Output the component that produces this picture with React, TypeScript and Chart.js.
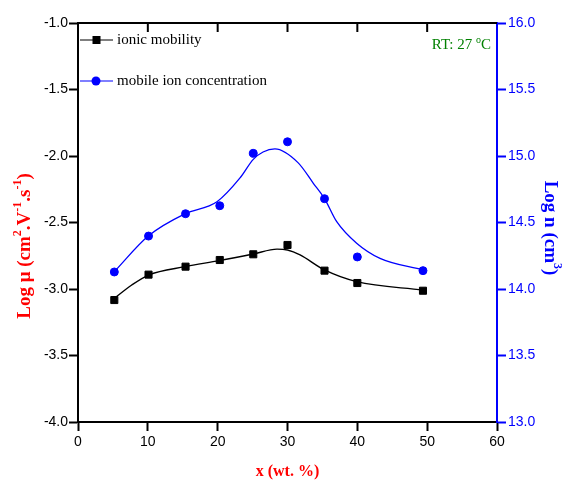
import React, { useEffect, useRef } from "react";
import { Chart, registerables } from "chart.js";
Chart.register(...registerables);

// measured points
const xValues = [5.2, 10.1, 15.4, 20.3, 25.1, 30.0, 35.3, 40.0, 49.4];
const mobility = [-3.083, -2.892, -2.832, -2.782, -2.739, -2.669, -2.862, -2.955, -3.013];
const concentration = [14.128, 14.398, 14.566, 14.626, 15.02, 15.107, 14.679, 14.241, 14.138];

// fitted curves
const mobilityFitX = [5.2, 7.7, 10.1, 15.3, 20.2, 25.1, 28.5, 30.0, 31.8, 35.3, 39.9, 49.4];
const mobilityFitY = [-3.07, -2.97, -2.895, -2.832, -2.787, -2.737, -2.7, -2.707, -2.744, -2.857, -2.945, -3.008];
const concFitX = [5.2, 10.1, 15.3, 19.9, 23.2, 25.1, 26.5, 28.2, 31.5, 33.7, 35.3, 37.05, 39.9, 43.25, 49.4];
const concFitY = [14.13, 14.4, 14.565, 14.656, 14.835, 14.975, 15.03, 15.053, 14.95, 14.795, 14.68, 14.506, 14.344, 14.23, 14.143];

const xTicks = [0, 10, 20, 30, 40, 50, 60];

type Seg = { t: string; sup?: boolean };

function segWidth(ctx: CanvasRenderingContext2D, segs: Seg[], font: string, supFont: string) {
  let w = 0;
  for (const s of segs) {
    ctx.font = s.sup ? supFont : font;
    w += ctx.measureText(s.t).width;
  }
  return w;
}
function drawSegs(ctx: CanvasRenderingContext2D, segs: Seg[], x: number, y: number, font: string, supFont: string, supRaise: number) {
  let cx = x;
  for (const s of segs) {
    ctx.font = s.sup ? supFont : font;
    ctx.fillText(s.t, cx, s.sup ? y - supRaise : y);
    cx += ctx.measureText(s.t).width;
  }
}

const decorPlugin = {
  id: "decor",
  afterDraw(chart: any) {
    const ctx: CanvasRenderingContext2D = chart.ctx;
    const { left, right, top } = chart.chartArea;
    const xs = chart.scales.x;
    ctx.save();
    // top frame with inward ticks
    ctx.strokeStyle = "#000";
    ctx.lineWidth = 2;
    ctx.beginPath();
    ctx.moveTo(left - 1, top);
    ctx.lineTo(right, top);
    ctx.stroke();
    for (const v of xTicks) {
      if (v === 0 || v === 60) continue;
      const px = xs.getPixelForValue(v);
      ctx.beginPath();
      ctx.moveTo(px, top);
      ctx.lineTo(px, top + 9);
      ctx.stroke();
    }

    const serif = '"Liberation Serif", "Times New Roman", serif';
    ctx.textBaseline = "middle";
    ctx.textAlign = "left";

    // Legend
    ctx.lineWidth = 1.2;
    ctx.strokeStyle = "#000";
    ctx.beginPath();
    ctx.moveTo(80, 40);
    ctx.lineTo(113, 40);
    ctx.stroke();
    ctx.fillStyle = "#000";
    ctx.fillRect(92.5, 36, 8, 8);
    ctx.font = "15px " + serif;
    ctx.fillText("ionic mobility", 117, 40);

    ctx.strokeStyle = "#0000FF";
    ctx.beginPath();
    ctx.moveTo(80, 81);
    ctx.lineTo(113, 81);
    ctx.stroke();
    ctx.fillStyle = "#0000FF";
    ctx.beginPath();
    ctx.arc(96, 81, 4.5, 0, Math.PI * 2);
    ctx.fill();
    ctx.fillStyle = "#000";
    ctx.fillText("mobile ion concentration", 117, 81);

    // RT label
    ctx.fillStyle = "#008000";
    const rtSegs: Seg[] = [{ t: "RT: 27 " }, { t: "o", sup: true }, { t: "C" }];
    const rtFont = "15px " + serif;
    const rtSup = "10px " + serif;
    const rtw = segWidth(ctx, rtSegs, rtFont, rtSup);
    drawSegs(ctx, rtSegs, 491 - rtw, 45, rtFont, rtSup, 5);

    // X title
    const tFont = "bold 16px " + serif;
    const tSup = "bold 10px " + serif;
    ctx.fillStyle = "#FF0000";
    const xt: Seg[] = [{ t: "x (wt. %)" }];
    const xw = segWidth(ctx, xt, tFont, tSup);
    drawSegs(ctx, xt, (left + right) / 2 - xw / 2, 472, tFont, tSup, 5);

    // Y titles (larger)
    const yFont = "bold 19px " + serif;
    const ySup = "bold 12px " + serif;
    const lt: Seg[] = [
      { t: "Log μ (cm" }, { t: "2", sup: true }, { t: ".V" }, { t: "-1", sup: true },
      { t: ".s" }, { t: "-1", sup: true }, { t: ")" },
    ];
    const lw = segWidth(ctx, lt, yFont, ySup);
    ctx.save();
    ctx.translate(25, 246);
    ctx.rotate(-Math.PI / 2);
    drawSegs(ctx, lt, -lw / 2, 0, yFont, ySup, 7);
    ctx.restore();

    // Right title
    ctx.fillStyle = "#0000FF";
    const rt: Seg[] = [{ t: "Log n (cm" }, { t: "3", sup: true }, { t: ")" }];
    const rw = segWidth(ctx, rt, yFont, ySup);
    ctx.save();
    ctx.translate(550, 228);
    ctx.rotate(Math.PI / 2);
    drawSegs(ctx, rt, -rw / 2, 0, yFont, ySup, 7);
    ctx.restore();

    ctx.restore();
  },
};

export default function App() {
  const ref = useRef<HTMLCanvasElement | null>(null);
  useEffect(() => {
    document.body.style.margin = "0";
    const canvas = ref.current!;
    const sans = '"Liberation Sans", Arial, sans-serif';
    const chart = new Chart(canvas, {
      type: "line",
      data: {
        datasets: [
          {
            label: "ionic mobility",
            data: xValues.map((x, i) => ({ x, y: mobility[i] })),
            yAxisID: "y",
            showLine: false,
            pointStyle: "rect",
            pointRadius: 5,
            pointBackgroundColor: "#000",
            pointBorderColor: "#000",
            pointBorderWidth: 1,
            order: 0,
          },
          {
            label: "mobile ion concentration",
            data: xValues.map((x, i) => ({ x, y: concentration[i] })),
            yAxisID: "y2",
            showLine: false,
            pointStyle: "circle",
            pointRadius: 4,
            pointBackgroundColor: "#0000FF",
            pointBorderColor: "#0000FF",
            pointBorderWidth: 1,
            order: 0,
          },
          {
            label: "mobility fit",
            data: mobilityFitX.map((x, i) => ({ x, y: mobilityFitY[i] })),
            yAxisID: "y",
            borderColor: "#000",
            borderWidth: 1.4,
            pointRadius: 0,
            cubicInterpolationMode: "monotone",
            fill: false,
            order: 1,
          },
          {
            label: "concentration fit",
            data: concFitX.map((x, i) => ({ x, y: concFitY[i] })),
            yAxisID: "y2",
            borderColor: "#0000FF",
            borderWidth: 1.3,
            pointRadius: 0,
            cubicInterpolationMode: "monotone",
            fill: false,
            order: 1,
          },
        ],
      },
      options: {
        animation: false,
        responsive: false,
        maintainAspectRatio: false,
        layout: { padding: { top: 23, left: 0, right: 0, bottom: 0 } },
        plugins: { legend: { display: false }, tooltip: { enabled: false } },
        scales: {
          x: {
            type: "linear",
            min: 0,
            max: 60,
            afterFit: (s: any) => { s.height = 60; },
            afterBuildTicks: (s: any) => { s.ticks = xTicks.map((v) => ({ value: v })); },
            border: { color: "#000", width: 2 },
            grid: { drawOnChartArea: false, drawTicks: true, tickLength: 9, color: "#000", tickWidth: 2 },
            ticks: { color: "#000", font: { family: sans, size: 14 }, padding: 3, maxRotation: 0 },
          },
          y: {
            type: "linear",
            position: "left",
            min: -4,
            max: -1,
            afterFit: (s: any) => { s.width = 78; },
            border: { color: "#000", width: 2 },
            grid: { drawOnChartArea: false, drawTicks: true, tickLength: 9, color: "#000", tickWidth: 2 },
            ticks: { stepSize: 0.5, color: "#000", font: { family: sans, size: 14 }, padding: 1, callback: (v: any) => Number(v).toFixed(1) },
          },
          y2: {
            type: "linear",
            position: "right",
            min: 13,
            max: 16,
            afterFit: (s: any) => { s.width = 66; },
            border: { color: "#0000FF", width: 2 },
            grid: { drawOnChartArea: false, drawTicks: true, tickLength: 9, color: "#0000FF", tickWidth: 2 },
            ticks: { stepSize: 0.5, color: "#0000FF", font: { family: sans, size: 14 }, padding: 2, callback: (v: any) => Number(v).toFixed(1) },
          },
        },
      } as any,
      plugins: [decorPlugin],
    });
    return () => chart.destroy();
  }, []);
  return (
    <div style={{ width: 563, height: 482, background: "#fff" }}>
      <canvas ref={ref} width={563} height={482} style={{ display: "block" }} />
    </div>
  );
}
